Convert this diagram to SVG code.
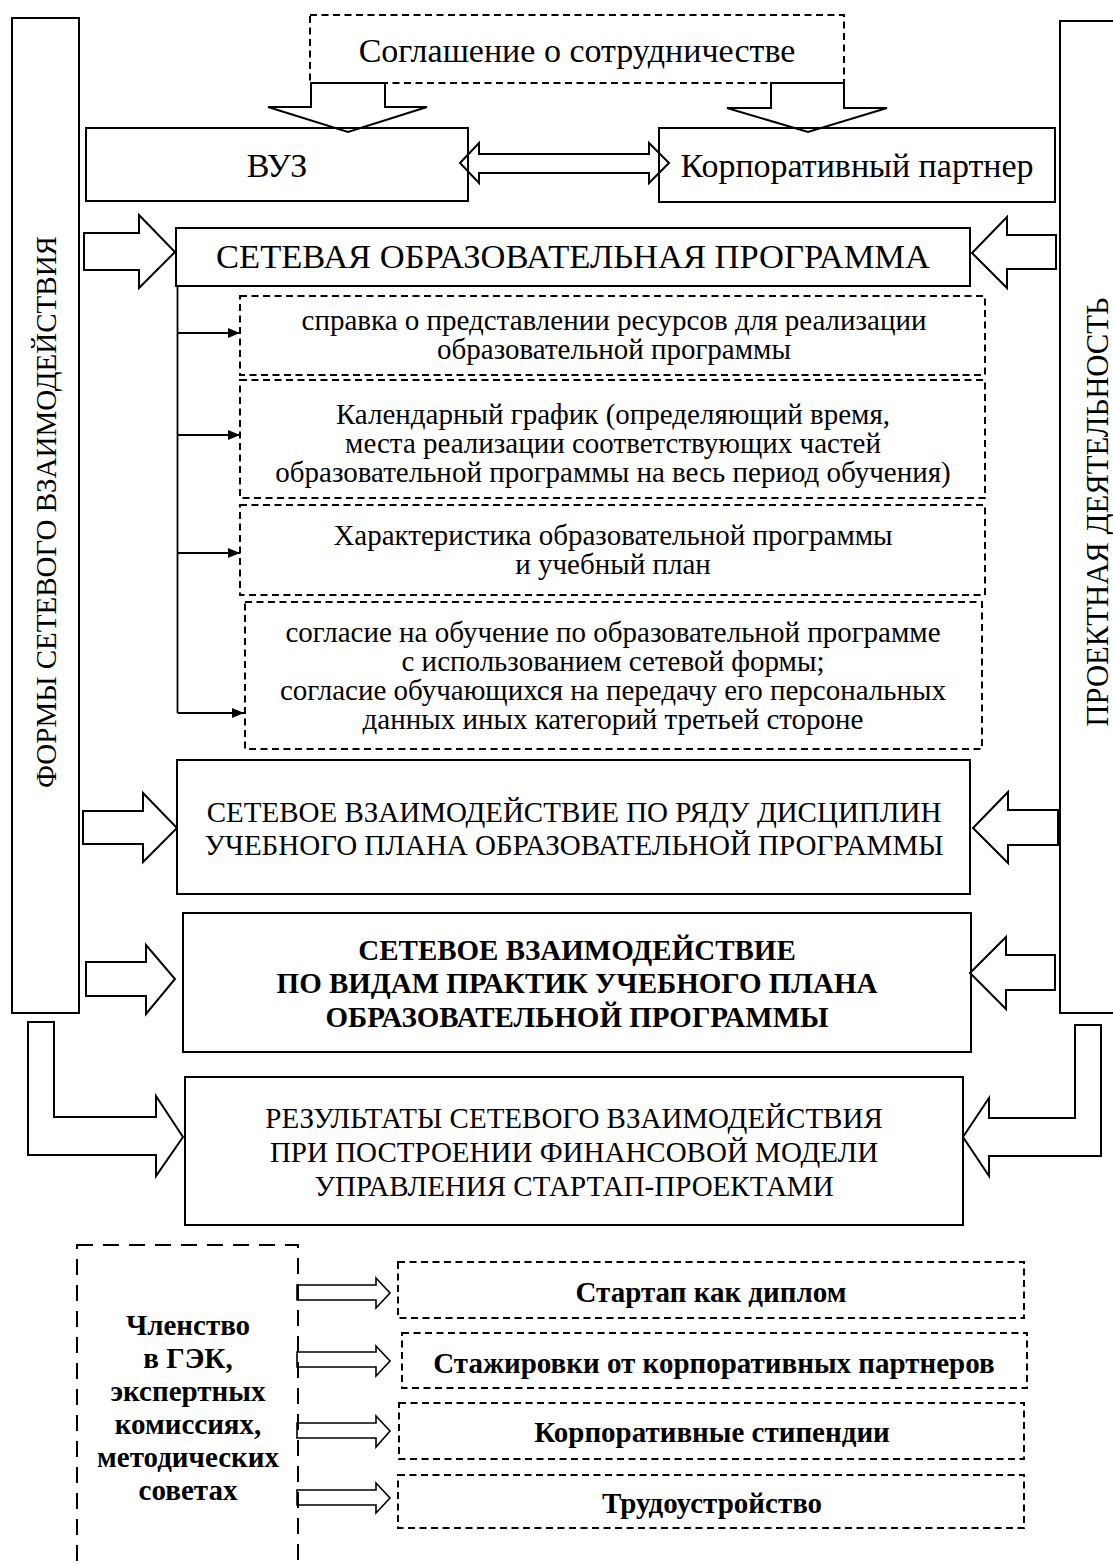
<svg xmlns="http://www.w3.org/2000/svg" width="1113" height="1564" viewBox="0 0 1113 1564">
<style>
.box{fill:none;stroke:#000;stroke-width:2}
.dash{fill:none;stroke:#000;stroke-width:2;stroke-dasharray:7 4.5}
.ldash{fill:none;stroke:#000;stroke-width:2;stroke-dasharray:16 10}
.arr{fill:none;stroke:#000;stroke-width:2;stroke-linejoin:miter}
.thin{fill:none;stroke:#000;stroke-width:1.6}
.line{fill:none;stroke:#000;stroke-width:1.8}
text{font-family:"Liberation Serif","Times New Roman",serif;fill:#000;text-anchor:middle}
.big{font-size:34.5px}
.mid{font-size:34px}
.cap{font-size:29px}
.sm{font-size:29px}
.bold{font-weight:bold}
.bb{font-size:29px;font-weight:bold}
</style>
<defs>
<marker id="ah" viewBox="0 0 12 10" refX="12" refY="5" markerWidth="12" markerHeight="10" markerUnits="userSpaceOnUse" orient="auto">
<path d="M0,0 L12,5 L0,10 z" fill="#000"/>
</marker>
</defs>
<rect width="1113" height="1564" fill="#fff"/>

<g id="forms">
<rect class="box" x="12" y="18" width="67" height="995"/>
<text class="cap" transform="translate(56,512) rotate(-90)">ФОРМЫ СЕТЕВОГО ВЗАИМОДЕЙСТВИЯ</text>
</g>
<g id="project">
<rect class="box" x="1060" y="21" width="70" height="992"/>
<text class="cap" style="font-size:30.7px" transform="translate(1108,512) rotate(-90)">ПРОЕКТНАЯ ДЕЯТЕЛЬНОСТЬ</text>
</g>
<g id="agreement">
<rect class="dash" x="310" y="15" width="534" height="68"/>
<text class="mid" x="577" y="62">Соглашение о сотрудничестве</text>
</g>
<g id="vuz">
<rect class="box" x="86" y="128" width="382" height="73"/>
<text class="mid" x="277" y="177">ВУЗ</text>
</g>
<g id="partner">
<rect class="box" x="659" y="128" width="396" height="74"/>
<text class="mid" x="857" y="177">Корпоративный партнер</text>
</g>
<g id="program">
<rect class="box" x="176" y="228" width="794" height="58"/>
<text class="big" x="573" y="268">СЕТЕВАЯ ОБРАЗОВАТЕЛЬНАЯ ПРОГРАММА</text>
</g>
<g id="doc1">
<rect class="dash" x="240" y="296" width="745" height="79"/>
<text class="sm" x="614" y="330">справка о представлении ресурсов для реализации</text>
<text class="sm" x="614" y="359">образовательной программы</text>
</g>
<g id="doc2">
<rect class="dash" x="240" y="380" width="745" height="118"/>
<text class="sm" x="613" y="424">Календарный график (определяющий время,</text>
<text class="sm" x="613" y="453">места реализации соответствующих частей</text>
<text class="sm" x="613" y="482">образовательной программы на весь период обучения)</text>
</g>
<g id="doc3">
<rect class="dash" x="240" y="505" width="745" height="90"/>
<text class="sm" x="613" y="545">Характеристика образовательной программы</text>
<text class="sm" x="613" y="574">и учебный план</text>
</g>
<g id="doc4">
<rect class="dash" x="245" y="602" width="737" height="147"/>
<text class="sm" x="613" y="642">согласие на обучение по образовательной программе</text>
<text class="sm" x="613" y="671">с использованием сетевой формы;</text>
<text class="sm" x="613" y="700">согласие обучающихся на передачу его персональных</text>
<text class="sm" x="613" y="729">данных иных категорий третьей стороне</text>
</g>
<g id="disciplines">
<rect class="box" x="177" y="760" width="793" height="134"/>
<text class="cap" x="574" y="822">СЕТЕВОЕ ВЗАИМОДЕЙСТВИЕ ПО РЯДУ ДИСЦИПЛИН</text>
<text class="cap" x="574" y="855">УЧЕБНОГО ПЛАНА ОБРАЗОВАТЕЛЬНОЙ ПРОГРАММЫ</text>
</g>
<g id="practices">
<rect class="box" x="183" y="913" width="788" height="139"/>
<text class="cap bold" x="577" y="960">СЕТЕВОЕ ВЗАИМОДЕЙСТВИЕ</text>
<text class="cap bold" x="577" y="993">ПО ВИДАМ ПРАКТИК УЧЕБНОГО ПЛАНА</text>
<text class="cap bold" x="577" y="1027">ОБРАЗОВАТЕЛЬНОЙ ПРОГРАММЫ</text>
</g>
<g id="results">
<rect class="box" x="185" y="1077" width="778" height="148"/>
<text class="cap" x="574" y="1128">РЕЗУЛЬТАТЫ СЕТЕВОГО ВЗАИМОДЕЙСТВИЯ</text>
<text class="cap" x="574" y="1162">ПРИ ПОСТРОЕНИИ ФИНАНСОВОЙ МОДЕЛИ</text>
<text class="cap" x="574" y="1196">УПРАВЛЕНИЯ СТАРТАП-ПРОЕКТАМИ</text>
</g>
<g id="membership">
<rect class="ldash" x="77" y="1245" width="221" height="340"/>
<text class="bb" x="188" y="1335">Членство</text>
<text class="bb" x="188" y="1368">в ГЭК,</text>
<text class="bb" x="188" y="1401">экспертных</text>
<text class="bb" x="188" y="1434">комиссиях,</text>
<text class="bb" x="188" y="1467">методических</text>
<text class="bb" x="188" y="1500">советах</text>
</g>
<g id="startup">
<rect class="dash" x="398" y="1262" width="626" height="56"/>
<text class="bb" x="711" y="1302">Стартап как диплом</text>
</g>
<g id="internships">
<rect class="dash" x="402" y="1333" width="625" height="55"/>
<text class="bb" x="714" y="1373">Стажировки от корпоративных партнеров</text>
</g>
<g id="scholarships">
<rect class="dash" x="399" y="1403" width="625" height="56"/>
<text class="bb" x="712" y="1442">Корпоративные стипендии</text>
</g>
<g id="employment">
<rect class="dash" x="398" y="1475" width="626" height="53"/>
<text class="bb" x="712" y="1513">Трудоустройство</text>
</g>

<g id="connectors">
<polygon class="arr" points="311,83 385,83 385,107 427,107 348,132 268,107 311,107"/>
<polygon class="arr" points="771,83 844,83 844,108 887,108 808,132 727,108 771,108"/>
<polygon class="arr" points="460,163 479,143 479,154 649,154 649,143 669,163 649,183 649,173 479,173 479,183"/>
<polygon class="arr" points="84,233 139,233 139,215 175,252 139,288 139,270 84,270"/>
<polygon class="arr" points="1056,235 1007,235 1007,217 972,253 1007,288 1007,269 1056,269"/>
<polygon class="arr" points="83,811 143,811 143,793 177,828 143,862 143,844 83,844"/>
<polygon class="arr" points="1058,810 1008,810 1008,792 973,828 1008,863 1008,845 1058,845"/>
<polygon class="arr" points="86,962 146,962 146,945 175,979 146,1014 146,996 86,996"/>
<polygon class="arr" points="1055,955 1006,955 1006,937 970,973 1006,1009 1006,990 1055,990"/>
<polygon class="arr" points="28,1022 54,1022 54,1117 156,1117 156,1096 183,1137 156,1176 156,1155 28,1155"/>
<polygon class="arr" points="1101,1025 1075,1025 1075,1118 989,1118 989,1098 963,1137 989,1176 989,1156 1101,1156"/>
<line class="line" x1="177.5" y1="286" x2="177.5" y2="713"/>
<line class="line" x1="177.5" y1="333" x2="240" y2="333" marker-end="url(#ah)"/>
<line class="line" x1="177.5" y1="435" x2="240" y2="435" marker-end="url(#ah)"/>
<line class="line" x1="177.5" y1="553" x2="240" y2="553" marker-end="url(#ah)"/>
<line class="line" x1="177.5" y1="713" x2="244" y2="713" marker-end="url(#ah)"/>
<polygon class="thin" points="297,1285 376,1285 376,1278 390,1293 376,1308 376,1300 297,1300"/>
<polygon class="thin" points="297,1352 376,1352 376,1346 390,1361 376,1376 376,1367 297,1367"/>
<polygon class="thin" points="297,1423 376,1423 376,1416 390,1431 376,1447 376,1438 297,1438"/>
<polygon class="thin" points="297,1490 376,1490 376,1483 390,1498 376,1513 376,1505 297,1505"/>
</g>
</svg>
